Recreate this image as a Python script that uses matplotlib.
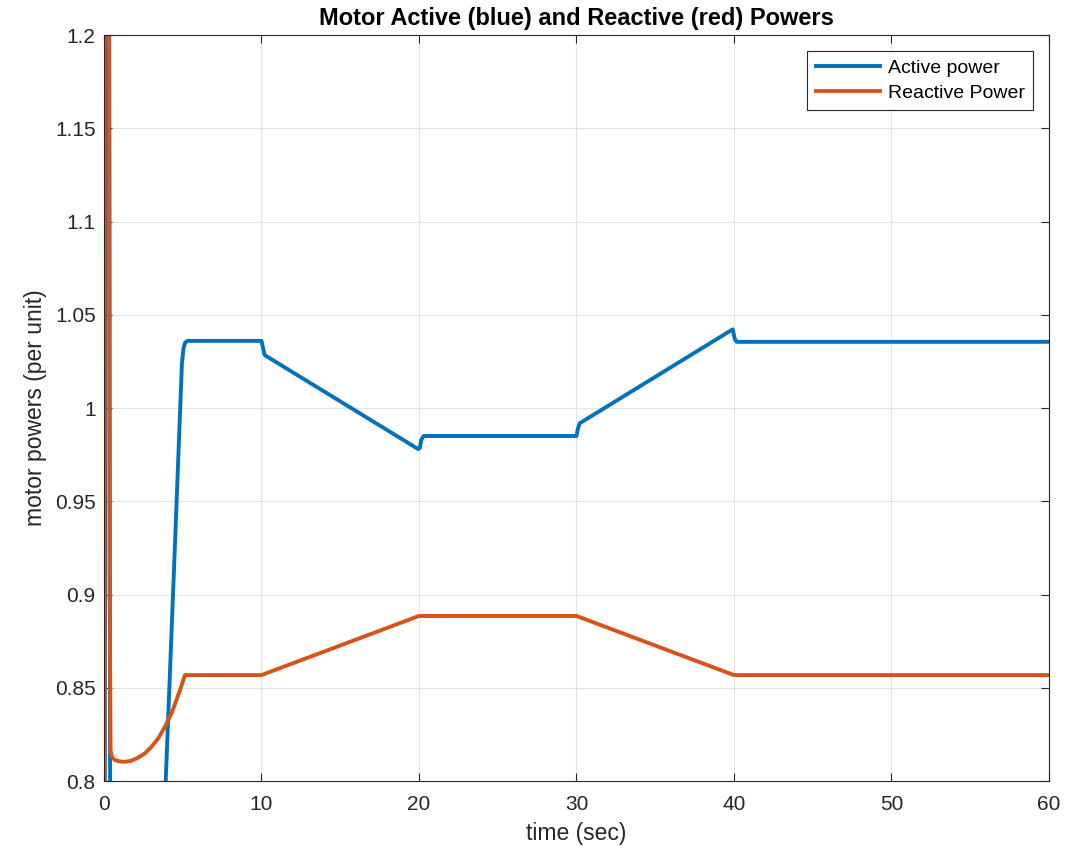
import matplotlib.pyplot as plt
import numpy as np

# breakpoints of the simulated motor powers (time in sec, power in per unit)
t_active = [0.0, 0.12, 0.22, 0.32, 0.42, 0.6, 1.5, 3.0, 3.6, 3.92, 4.5, 4.95, 5.05, 5.15, 5.3,
            10.0, 10.08, 10.2, 19.95, 20.05, 20.15, 20.3, 30.0, 30.08, 30.2, 39.92, 40.05, 40.17, 60.0]
p_active = [0.2, 1.45, 1.6, 1.35, 0.55, 0.3, 0.4, 0.62, 0.74, 0.8, 0.925, 1.024, 1.032, 1.035, 1.036,
            1.036, 1.033, 1.0284, 0.978, 0.9785, 0.983, 0.985, 0.985, 0.9885, 0.9918, 1.0422, 1.037, 1.0355, 1.0355]

t_reactive = [0.0, 0.03, 0.08, 0.13, 0.2, 0.28, 0.36, 0.42, 0.5, 0.7, 1.0, 1.3, 1.7, 2.1, 2.6,
              3.0, 3.45, 3.9, 4.3, 4.6, 4.9, 5.14, 10.0, 10.5, 20.0, 30.0, 40.0, 60.0]
p_reactive = [0.6, 1.5, 1.3, 1.6, 1.35, 1.45, 0.9, 0.8165, 0.813, 0.8112, 0.8105, 0.8103, 0.8108, 0.8122, 0.8148,
              0.8182, 0.8229, 0.8295, 0.8365, 0.8434, 0.8505, 0.8568, 0.8568, 0.8584, 0.8885, 0.8885, 0.8568, 0.8568]

plt.rcParams['font.family'] = ['Liberation Sans', 'DejaVu Sans']

fig = plt.figure(figsize=(10.74, 8.46), dpi=100)
ax = fig.add_axes([0.0968, 0.0768, 0.8799, 0.8818])

ax.plot(t_active, p_active, color='#0072BD', lw=2.8, label='Active power')
ax.plot(t_reactive, p_reactive, color='#D95319', lw=2.8, label='Reactive Power')

ax.set_xlim(0, 60)
ax.set_ylim(0.8, 1.2)
ax.set_xticks(np.arange(0, 61, 10))
ax.set_yticks(np.arange(0.8, 1.2001, 0.05))
ax.set_yticklabels(['0.8', '0.85', '0.9', '0.95', '1', '1.05', '1.1', '1.15', '1.2'])
ax.grid(True, color='#e3e3e3', lw=0.8)
ax.tick_params(direction='in', top=True, right=True, labelsize=15, length=6,
               color='#262626', labelcolor='#262626')
ax.tick_params(axis='x', pad=10)
ax.tick_params(axis='y', pad=6)
for s in ax.spines.values():
    s.set_color('#262626')
    s.set_linewidth(0.8)

ax.set_title('Motor Active (blue) and Reactive (red) Powers', fontsize=17, fontweight='bold', pad=7)
ax.set_xlabel('time (sec)', fontsize=16.5, labelpad=6, color='#262626')
ax.set_ylabel('motor powers (per unit)', fontsize=16.5, labelpad=6, color='#262626')

leg = ax.legend(loc='upper right', fontsize=14, fancybox=False, framealpha=1,
                edgecolor='#262626', handlelength=3.3, handletextpad=0.4,
                labelspacing=0.36, borderpad=0.45, borderaxespad=0.8)
leg.get_frame().set_linewidth(0.8)

fig.savefig('out.png', dpi=100)
